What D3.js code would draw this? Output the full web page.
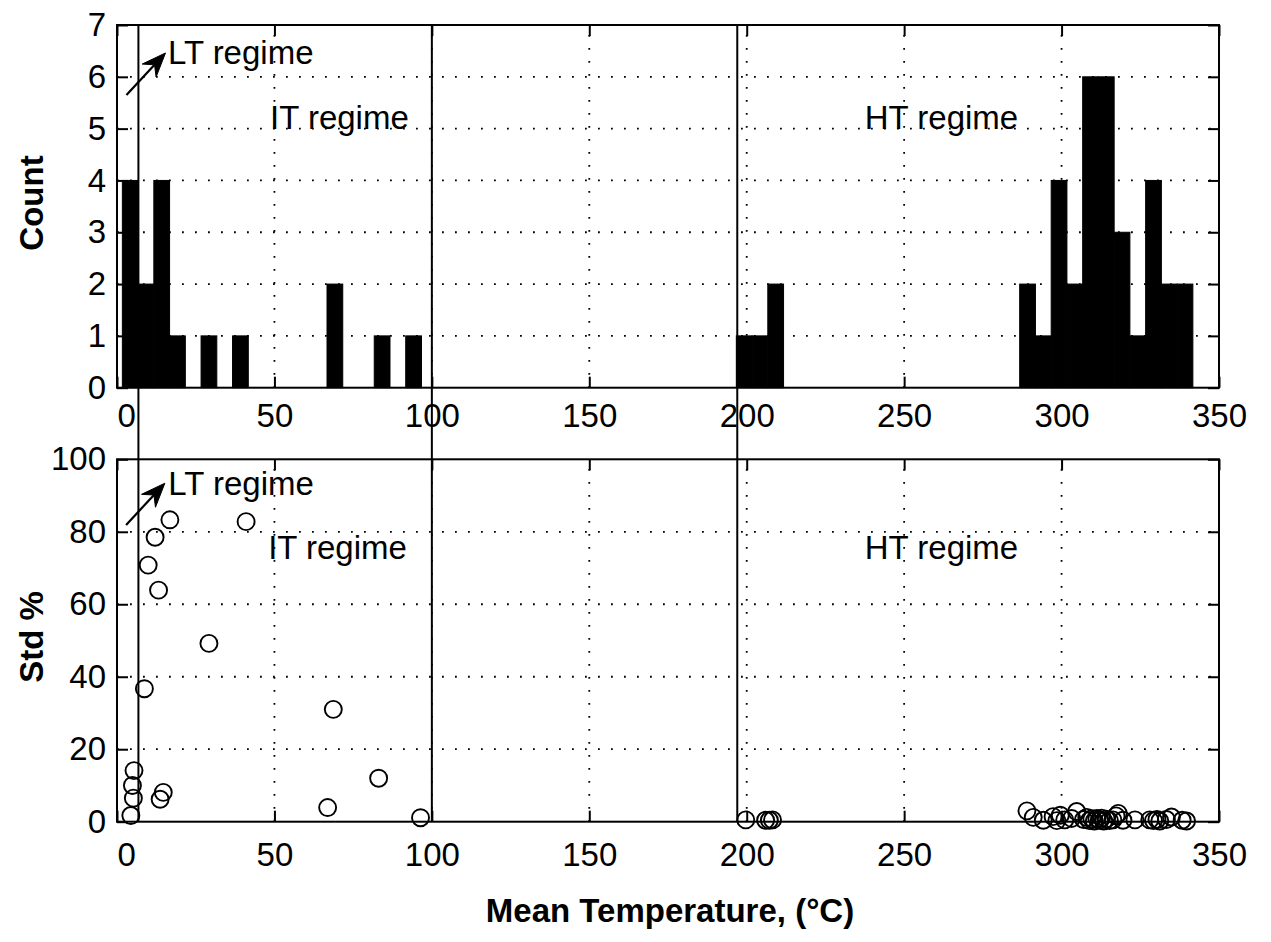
<!DOCTYPE html>
<html><head><meta charset="utf-8">
<script src="https://cdn.jsdelivr.net/npm/d3@7"></script>
<style>
body{margin:0;background:#fff;}
text{font-family:"Liberation Sans",Arial,Helvetica,sans-serif;fill:#000;}
</style>
</head><body>
<svg id="c" width="1271" height="942"></svg>
<script>
// ---------- DATA ----------
// Histogram (non-empty bins): left edges, counts, common width (°C)
const binStarts = [1.7, 6.7, 11.7, 16.7, 26.7, 36.7, 66.7, 81.7, 91.7,
                   196.7, 201.7, 206.7,
                   286.7, 291.7, 296.7, 301.7, 306.7, 311.7, 316.7, 321.7, 326.7, 331.7, 336.7];
const binCounts = [4, 2, 4, 1, 1, 1, 2, 1, 1,
                   1, 1, 2,
                   2, 1, 4, 2, 6, 6, 3, 1, 4, 2, 2];
const binWidth = 5;

// Scatter: mean temperature (°C) vs Std %
const meanTemp = [16.8, 41.0, 12.1, 9.9, 13.2, 29.2, 8.7, 68.7, 5.4, 4.9, 5.2, 14.7, 13.7, 83.1, 66.9, 4.4, 96.4,
                  199.7, 206.0, 207.2, 208.2,
                  289.0, 291.0, 294.2, 297.3, 298.5, 299.6, 301.0, 303.2, 304.8,
                  307.0, 308.0, 308.8, 309.6, 310.4, 311.2, 312.0, 312.7, 313.4, 314.2, 315.2, 316.3,
                  317.3, 318.0, 319.5, 323.3, 328.0, 329.2, 330.3, 331.2, 333.3, 334.9, 338.3, 339.7];
const stdPct   = [83.3, 82.8, 78.5, 70.8, 63.9, 49.2, 36.7, 31.0, 14.1, 10.0, 6.5, 8.1, 6.2, 12.0, 3.9, 1.7, 1.1,
                  0.5, 0.4, 0.4, 0.5,
                  3.0, 1.2, 0.4, 1.4, 0.3, 1.8, 0.5, 0.9, 2.8,
                  0.6, 1.2, 0.3, 0.8, 0.2, 0.9, 0.4, 1.0, 0.2, 0.7, 0.3, 0.5,
                  1.6, 2.3, 0.4, 0.5, 0.5, 0.3, 0.6, 0.2, 0.6, 1.3, 0.4, 0.2];

const xTicks = [0, 50, 100, 150, 200, 250, 300, 350];
const countTicks = [0, 1, 2, 3, 4, 5, 6, 7];
const stdTicks = [0, 20, 40, 60, 80, 100];
const regimeBounds = [6.8, 100, 197];
const regimeNames = ["LT regime", "IT regime", "HT regime"];

// ---------- LAYOUT ----------
const svg = d3.select("#c");
const FS = 33;
const x = d3.scaleLinear().domain([0, 350]).range([117, 1219]);
const yTop = d3.scaleLinear().domain([0, 7]).range([387.7, 25]);
const yBot = d3.scaleLinear().domain([0, 100]).range([821.7, 459.3]);
const fmt = d3.format("d");

function panel(y, yTicks, xPad) {
  const g = svg.append("g");
  const [y0, y1] = y.range();
  const [x0, x1] = x.range();
  // grid
  const grid = g.append("g").attr("stroke", "#000").attr("stroke-width", 1.8)
    .attr("stroke-dasharray", "1.8,11.2");
  grid.selectAll("line.v").data(xTicks.filter(t => t > 0 && t < 350)).join("line")
    .attr("x1", d => x(d)).attr("x2", d => x(d)).attr("y1", y0).attr("y2", y1);
  grid.selectAll("line.h").data(yTicks.slice(1, -1)).join("line")
    .attr("x1", x0).attr("x2", x1).attr("y1", d => y(d)).attr("y2", d => y(d));

  const ax = (gen, tr) => {
    const a = g.append("g").attr("transform", tr).call(gen);
    a.select(".domain").remove();
    a.selectAll(".tick line").attr("stroke", "#000").attr("stroke-width", 2);
    a.selectAll("text").attr("font-size", FS).attr("font-family", '"Liberation Sans",Arial,sans-serif').attr("fill", "#000");
    return a;
  };
  const bx = ax(d3.axisBottom(x).tickValues(xTicks).tickFormat(fmt).tickSizeInner(-11).tickSizeOuter(0).tickPadding(xPad), `translate(0,${y0})`);
  bx.selectAll(".tick text").filter(d => d === 0).attr("text-anchor", "start").attr("x", 0);
  ax(d3.axisTop(x).tickValues(xTicks).tickSizeInner(-11).tickSizeOuter(0).tickFormat(""), `translate(0,${y1})`);
  ax(d3.axisLeft(y).tickValues(yTicks).tickFormat(fmt).tickSizeInner(-11).tickSizeOuter(0).tickPadding(11), `translate(${x0},0)`);
  ax(d3.axisRight(y).tickValues(yTicks).tickSizeInner(-11).tickSizeOuter(0).tickFormat(""), `translate(${x1},0)`);
  return g;
}

const gTop = panel(yTop, countTicks, 16);
const gBot = panel(yBot, stdTicks, 21);

// histogram bars
gTop.append("g").selectAll("rect").data(binStarts).join("rect")
  .attr("x", d => x(d)).attr("width", d => x(d + binWidth) - x(d))
  .attr("y", (d, i) => yTop(binCounts[i])).attr("height", (d, i) => yTop(0) - yTop(binCounts[i]))
  .attr("fill", "#000").attr("stroke", "#000").attr("stroke-width", 1);

// scatter
gBot.append("g").selectAll("circle").data(meanTemp).join("circle")
  .attr("cx", d => x(d)).attr("cy", (d, i) => yBot(stdPct[i])).attr("r", 8.5)
  .attr("fill", "none").attr("stroke", "#000").attr("stroke-width", 1.9);

// frames
[yTop, yBot].forEach(y => {
  svg.append("rect").attr("x", x(0)).attr("y", y.range()[1])
    .attr("width", x(350) - x(0)).attr("height", y.range()[0] - y.range()[1])
    .attr("fill", "none").attr("stroke", "#000").attr("stroke-width", 2);
});

// regime boundary lines spanning both panels
svg.append("g").selectAll("line").data(regimeBounds).join("line")
  .attr("x1", d => x(d)).attr("x2", d => x(d)).attr("y1", yTop(7)).attr("y2", yBot(0))
  .attr("stroke", "#000").attr("stroke-width", 2);

// annotations
function arrow(x1, y1, x2, y2) {
  const ang = Math.atan2(y2 - y1, x2 - x1), L = 24, W = 9.5;
  const c = Math.cos(ang), s = Math.sin(ang);
  const bx = x2 - L * c, by = y2 - L * s;
  const nx = bx + 0.33 * L * c, ny = by + 0.33 * L * s;
  svg.append("line").attr("x1", x1).attr("y1", y1).attr("x2", nx).attr("y2", ny)
    .attr("stroke", "#000").attr("stroke-width", 2.2);
  svg.append("path").attr("d", `M${x2},${y2}L${bx + W * s},${by - W * c}L${nx},${ny}L${bx - W * s},${by + W * c}Z`)
    .attr("fill", "#000").attr("stroke", "#000").attr("stroke-width", 1);
}
const label = (t, px, py) => svg.append("text").attr("x", px).attr("y", py).attr("font-size", FS).text(t);

// top panel
arrow(x(3.0), yTop(5.65), x(15.4), yTop(6.46));
label(regimeNames[0], x(16.2), yTop(6.24));
label(regimeNames[1], x(48.6), yTop(5.0));
label(regimeNames[2], x(237.5), yTop(5.0));
// bottom panel
arrow(x(2.9), yBot(81.9), x(15.2), yBot(93.4));
label(regimeNames[0], x(16.3), yBot(90.1));
label(regimeNames[1], x(48.0), yBot(72.4));
label(regimeNames[2], x(237.5), yBot(72.4));

// axis titles
svg.append("text").attr("transform", "translate(43,203) rotate(-90)").attr("text-anchor", "middle")
  .attr("font-size", FS).attr("font-weight", "bold").text("Count");
svg.append("text").attr("transform", "translate(43,637) rotate(-90)").attr("text-anchor", "middle")
  .attr("font-size", FS).attr("font-weight", "bold").text("Std %");
svg.append("text").attr("x", 670).attr("y", 922).attr("text-anchor", "middle")
  .attr("font-size", FS).attr("font-weight", "bold").text("Mean Temperature, (°C)");
</script>
</body></html>
